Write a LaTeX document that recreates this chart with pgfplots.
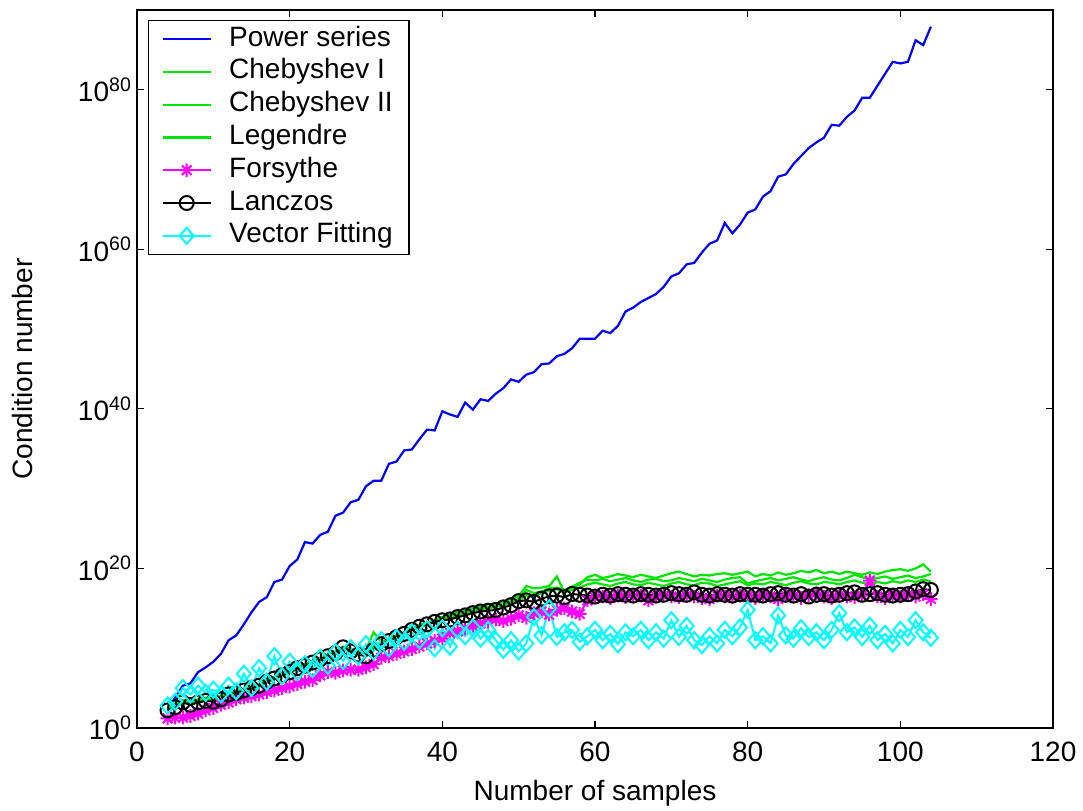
\documentclass[border=0pt]{standalone}
\usepackage{fontspec}
\setmainfont{Liberation Sans}
\usepackage{pgfplots}
\pgfplotsset{compat=1.18}

\definecolor{mblue}{rgb}{0,0,1}
\definecolor{mgreen}{rgb}{0,0.9,0}
\definecolor{mmag}{rgb}{1,0,1}
\definecolor{mcyan}{rgb}{0,1,1}

% MATLAB-like eight-armed asterisk
\pgfdeclareplotmark{mstar}{%
  \pgfpathmoveto{\pgfqpoint{0pt}{\pgfplotmarksize}}\pgfpathlineto{\pgfqpoint{0pt}{-\pgfplotmarksize}}%
  \pgfpathmoveto{\pgfqpoint{\pgfplotmarksize}{0pt}}\pgfpathlineto{\pgfqpoint{-\pgfplotmarksize}{0pt}}%
  \pgfpathmoveto{\pgfqpoint{.707\pgfplotmarksize}{.707\pgfplotmarksize}}\pgfpathlineto{\pgfqpoint{-.707\pgfplotmarksize}{-.707\pgfplotmarksize}}%
  \pgfpathmoveto{\pgfqpoint{.707\pgfplotmarksize}{-.707\pgfplotmarksize}}\pgfpathlineto{\pgfqpoint{-.707\pgfplotmarksize}{.707\pgfplotmarksize}}%
  \pgfusepathqstroke}
% diamond, slightly taller than wide
\pgfdeclareplotmark{mdiam}{%
  \pgfpathmoveto{\pgfqpoint{0pt}{1.15\pgfplotmarksize}}%
  \pgfpathlineto{\pgfqpoint{\pgfplotmarksize}{0pt}}%
  \pgfpathlineto{\pgfqpoint{0pt}{-1.15\pgfplotmarksize}}%
  \pgfpathlineto{\pgfqpoint{-\pgfplotmarksize}{0pt}}%
  \pgfpathclose\pgfusepathqstroke}

\newcommand{\mfont}{\fontsize{14}{16.8}\selectfont}

\begin{document}
\begin{tikzpicture}
\useasboundingbox (-68.5pt,-41pt) rectangle (473pt,364pt);
\begin{axis}[
  at={(0,0)}, anchor=south west,
  scale only axis, width=458pt, height=359pt,
  xmin=0, xmax=120, ymin=1, ymax=1e90,
  ymode=log,
  xtick={0,20,...,120},
  ytick={1,1e20,1e40,1e60,1e80},
  yticklabels={10\textsuperscript{0},10\textsuperscript{20},10\textsuperscript{40},10\textsuperscript{60},10\textsuperscript{80}},
  yminorticks=false,
  tick align=inside, major tick length=3.5pt,
  axis line style={line width=0.6pt}, every tick/.style={black,line width=0.6pt},
  /pgf/number format/assume math mode=true,
  every tick label/.append style={font=\mfont},
  xticklabel style={yshift=-3.5pt},
  yticklabel style={xshift=1pt},
  xlabel={Number of samples},
  ylabel={Condition number},
  label style={font=\mfont},
  xlabel style={at={(axis description cs:0.5,0)}, anchor=base, yshift=-36pt},
  ylabel style={at={(axis description cs:-0.1245,0.5)}, anchor=center},
  legend cell align=left,
  legend style={at={(0,1)}, anchor=north west, xshift=5.5pt, yshift=-5pt,
    font=\mfont, draw=black, line width=0.6pt, inner xsep=6.5pt, inner ysep=1pt,
    nodes={text height=10pt, text depth=3pt, inner sep=1.7pt},
    /tikz/every odd column/.append style={column sep=7pt}},
  legend image code/.code={\draw[mark repeat=2,mark phase=2,#1] plot coordinates {(0pt,0pt) (12pt,0pt) (24pt,0pt)};},
]
% Power series
\addplot[mblue, line width=1.1pt] coordinates {
(4,2e2)(5,6.3e3)(6,2e5)(7,4e5)(8,1e7)(9,4e7)(10,2e8)(11,2e9)(12,1e11)(13,4e11)(14,1e13)(15,3.2e14)(16,6.3e15)(17,2.5e16)(18,2e18)(19,4e18)(20,2e20)(21,1.3e21)(22,2e23)(23,1.3e23)(24,1.6e24)(25,4e24)(26,4e26)(27,1e27)(28,2e28)(29,4e28)(30,2e30)(31,1e31)(32,1e31)(33,1.3e33)(34,2.5e33)(35,6.3e34)(36,8e34)(37,1.6e36)(38,2.5e37)(39,2e37)(40,5e39)(41,2e39)(42,1e39)(43,6.3e40)(44,8e39)(45,1.6e41)(46,1e41)(47,8e41)(48,4e42)(49,5e43)(50,2.5e43)(51,2e44)(52,4e44)(53,4e45)(54,5e45)(55,4e46)(56,8e46)(57,4e47)(58,6.3e48)(59,6.3e48)(60,6.3e48)(61,6.3e49)(62,3.2e49)(63,2.5e50)(64,1.6e52)(65,5e52)(66,2.5e53)(67,8e53)(68,2.5e54)(69,2e55)(70,4e56)(71,1e57)(72,1.3e58)(73,2e58)(74,4e59)(75,5e60)(76,1.3e61)(77,2e63)(78,1e62)(79,1.3e63)(80,4e64)(81,1e65)(82,4e66)(83,2e67)(84,1.3e69)(85,2.5e69)(86,5e70)(87,5e71)(88,5e72)(89,2.5e73)(90,1e74)(91,4e75)(92,3.2e75)(93,4e76)(94,2.5e77)(95,1e79)(96,1e79)(97,3.2e80)(98,1e82)(99,3.2e83)(100,2e83)(101,3.2e83)(102,1.6e86)(103,4e85)(104,8e87)};
\addlegendentry{Power series}
% Chebyshev I
\addplot[mgreen, line width=1.1pt] coordinates {
(4,3.2e2)(5,1e3)(6,3.2e3)(7,1.6e3)(8,4e3)(9,6.3e3)(10,5e3)(11,1e4)(12,2.5e4)(13,4e4)(14,8e4)(15,1.6e5)(16,3.2e5)(17,1e6)(18,2.5e6)(19,6.3e6)(20,1.6e7)(21,5e7)(22,1e8)(23,2.5e8)(24,6.3e8)(25,1.6e9)(26,4e9)(27,1.6e10)(28,8e9)(29,4e9)(30,6.3e9)(31,1e12)(32,6.3e10)(33,1.3e11)(34,4e11)(35,1e12)(36,3.2e12)(37,8e12)(38,1.6e13)(39,3.2e13)(40,8e13)(41,1.6e14)(42,3.2e14)(43,5e14)(44,1e15)(45,1.6e15)(46,3.2e15)(47,4e15)(48,6.3e15)(49,1.6e16)(50,3.2e16)(51,6.3e17)(52,3.2e17)(53,4e17)(54,6.3e17)(55,1e19)(56,1e17)(57,4e17)(58,1e18)(59,8e18)(60,1.6e19)(61,6.3e18)(62,1e19)(63,2e19)(64,1.3e19)(65,8e18)(66,1.6e19)(67,1e19)(68,6.3e18)(69,1.3e19)(70,2.5e19)(71,4e19)(72,2e19)(73,1e19)(74,1.6e19)(75,1.3e19)(76,2e19)(77,2.5e19)(78,1.6e19)(79,2.5e19)(80,4e19)(81,1e19)(82,2e19)(83,1.3e19)(84,3.2e19)(85,1.6e19)(86,2.5e19)(87,5e19)(88,3.2e19)(89,6.3e19)(90,2.5e19)(91,4e19)(92,2e19)(93,4e19)(94,2.5e19)(95,1.6e19)(96,3.2e19)(97,2e19)(98,4e19)(99,6.3e19)(100,8e19)(101,5e19)(102,1e20)(103,3.2e20)(104,4e19)};
\addlegendentry{Chebyshev I}
% Chebyshev II
\addplot[mgreen, line width=1.1pt] coordinates {
(4,2e2)(5,8e2)(6,2e3)(7,1e3)(8,2.5e3)(9,3.2e3)(10,4e3)(11,8e3)(12,1.3e4)(13,2e4)(14,4e4)(15,8e4)(16,1.6e5)(17,5e5)(18,1.3e6)(19,3.2e6)(20,8e6)(21,2.5e7)(22,5e7)(23,1.3e8)(24,3.2e8)(25,8e8)(26,2e9)(27,8e9)(28,3.2e9)(29,1.6e9)(30,2e9)(31,1e10)(32,4e10)(33,1e11)(34,2.5e11)(35,6.3e11)(36,2e12)(37,5e12)(38,1e13)(39,2e13)(40,4e13)(41,1e14)(42,1.6e14)(43,2.5e14)(44,5e14)(45,8e14)(46,1.3e15)(47,2e15)(48,3.2e15)(49,6.3e15)(50,1.6e16)(51,2e17)(52,8e16)(53,1.3e17)(54,3.2e17)(55,4e17)(56,2e17)(57,5e17)(58,1.6e18)(59,4e18)(60,3.2e18)(61,5e18)(62,2.5e18)(63,4e18)(64,6.3e18)(65,3.2e18)(66,2e18)(67,4e18)(68,5e18)(69,2.5e18)(70,3.2e18)(71,6.3e18)(72,4e18)(73,2.5e18)(74,5e18)(75,3.2e18)(76,2e18)(77,4e18)(78,6.3e18)(79,8e18)(80,1.3e18)(81,2.5e18)(82,4e18)(83,6.3e18)(84,3.2e18)(85,5e18)(86,8e18)(87,4e18)(88,2.5e18)(89,5e18)(90,8e18)(91,4e18)(92,3.2e18)(93,6.3e18)(94,1.6e19)(95,8e18)(96,4e18)(97,6.3e18)(98,1e19)(99,5e18)(100,8e18)(101,1.3e19)(102,6.3e18)(103,1e19)(104,2e19)};
\addlegendentry{Chebyshev II}
% Legendre
\addplot[mgreen, line width=1.1pt] coordinates {
(4,2.5e2)(5,6.3e2)(6,2.5e3)(7,1.3e3)(8,2e3)(9,4e3)(10,3.2e3)(11,6.3e3)(12,2e4)(13,2.5e4)(14,6.3e4)(15,1.3e5)(16,2e5)(17,8e5)(18,1.6e6)(19,5e6)(20,1e7)(21,3.2e7)(22,8e7)(23,2e8)(24,5e8)(25,1.3e9)(26,3.2e9)(27,1e10)(28,5e9)(29,2e9)(30,4e9)(31,2e10)(32,5e10)(33,1e11)(34,3.2e11)(35,8e11)(36,2e12)(37,4e12)(38,8e12)(39,2e13)(40,3.2e13)(41,6.3e13)(42,1.3e14)(43,2e14)(44,4e14)(45,6.3e14)(46,1e15)(47,1.6e15)(48,2.5e15)(49,5e15)(50,1e16)(51,4e16)(52,3.2e16)(53,8e16)(54,1.6e17)(55,2.5e17)(56,1e17)(57,2e17)(58,4e17)(59,1e18)(60,1.6e18)(61,1e18)(62,6.3e17)(63,1.3e18)(64,2e18)(65,1e18)(66,8e17)(67,1.6e18)(68,1e18)(69,6.3e17)(70,1.3e18)(71,2e18)(72,1e18)(73,8e17)(74,1.6e18)(75,1.3e18)(76,6.3e17)(77,1e18)(78,1.6e18)(79,2.5e18)(80,8e17)(81,1.3e18)(82,1e18)(83,2e18)(84,1.3e18)(85,8e17)(86,1.6e18)(87,2.5e18)(88,1.3e18)(89,1e18)(90,2e18)(91,1.6e18)(92,1e18)(93,2e18)(94,3.2e18)(95,1.6e18)(96,1e18)(97,2e18)(98,1.3e18)(99,2.5e18)(100,1.6e18)(101,3.2e18)(102,2e18)(103,4e18)(104,2.5e18)};
\addlegendentry{Legendre}
% Forsythe
\addplot[mmag, line width=1pt, mark=mstar, mark size=3.4pt] coordinates {
(4,1.6e1)(5,2e1)(6,2e1)(7,3.2e1)(8,6.3e1)(9,1.6e2)(10,3.2e2)(11,8e2)(12,1.6e3)(13,4e3)(14,6.3e3)(15,1e4)(16,1.6e4)(17,3.2e4)(18,5e4)(19,1e5)(20,1.6e5)(21,3.2e5)(22,6.3e5)(23,1e6)(24,4e6)(25,1e7)(26,8e6)(27,1.6e7)(28,2e7)(29,2e7)(30,4e7)(31,1e8)(32,6.3e8)(33,1e9)(34,2e9)(35,4e9)(36,8e9)(37,1.6e10)(38,4e10)(39,8e10)(40,1.6e11)(41,8e11)(42,1.3e12)(43,3.2e12)(44,6.3e12)(45,1.3e13)(46,2e13)(47,4e13)(48,2.5e13)(49,5e13)(50,1.3e14)(51,6.3e13)(52,2.5e14)(53,4e14)(54,1.6e14)(55,6.3e14)(56,1e15)(57,4e14)(58,2e14)(59,1e16)(60,2.5e16)(61,3e16)(62,2e16)(63,4e16)(64,2.5e16)(65,3e16)(66,4e16)(67,1e16)(68,3e16)(69,4e16)(70,3e16)(71,2.5e16)(72,4e16)(73,3e16)(74,2e16)(75,1.5e16)(76,4e16)(77,3e16)(78,2.5e16)(79,4e16)(80,3e16)(81,2e16)(82,4e16)(83,3e16)(84,1.5e16)(85,4e16)(86,3e16)(87,2e16)(88,4e16)(89,8e16)(90,3e16)(91,2e16)(92,4e16)(93,3e16)(94,2.5e16)(95,4e16)(96,3e18)(97,3e16)(98,2e16)(99,4e16)(100,3e16)(101,5e16)(102,3e16)(103,6e16)(104,1.5e16)};
\addlegendentry{Forsythe}
% Lanczos
\addplot[black, line width=1pt, mark=o, mark size=3.5pt] coordinates {
(4,1.6e2)(5,4e2)(6,1.6e3)(7,8e2)(8,1.6e3)(9,2.5e3)(10,2e3)(11,4e3)(12,1.6e4)(13,2.5e4)(14,5e4)(15,1e5)(16,2e5)(17,6.3e5)(18,1.6e6)(19,4e6)(20,1e7)(21,3.2e7)(22,6.3e7)(23,1.6e8)(24,4e8)(25,1e9)(26,2.5e9)(27,1.3e10)(28,4e9)(29,1.6e9)(30,1e9)(31,6.3e9)(32,3.2e10)(33,8e10)(34,2.5e11)(35,6.3e11)(36,2e12)(37,5e12)(38,1e13)(39,2e13)(40,3.2e13)(41,4e13)(42,8e13)(43,1.3e14)(44,2.5e14)(45,4e14)(46,5e14)(47,6.3e14)(48,1.3e15)(49,2.5e15)(50,8e15)(51,1e16)(52,6.3e15)(53,1.6e16)(54,3.2e16)(55,4e16)(56,2.5e16)(57,6.3e16)(58,5e16)(59,4e16)(60,3e16)(61,5e16)(62,4e16)(63,6e16)(64,5e16)(65,4e16)(66,6e16)(67,5e16)(68,4e16)(69,5e16)(70,8e16)(71,6e16)(72,5e16)(73,1e17)(74,5e16)(75,4e16)(76,6e16)(77,5e16)(78,4e16)(79,6e16)(80,5e16)(81,5e16)(82,4e16)(83,6e16)(84,8e16)(85,5e16)(86,4e16)(87,6e16)(88,3e16)(89,5e16)(90,6e16)(91,4e16)(92,5e16)(93,8e16)(94,1e17)(95,5e16)(96,6e16)(97,8e16)(98,5e16)(99,4e16)(100,5e16)(101,6e16)(102,1.3e17)(103,2.5e17)(104,2e17)};
\addlegendentry{Lanczos}
% Vector Fitting
\addplot[mcyan, line width=1pt, mark=mdiam, mark size=3.5pt] coordinates {
(4,6.3e2)(5,2e3)(6,1e5)(7,1.6e4)(8,2e5)(9,2.5e4)(10,6.3e4)(11,1.6e4)(12,2e5)(13,4e4)(14,6.3e6)(15,1e5)(16,3.2e7)(17,6.3e5)(18,1e9)(19,3.2e6)(20,2e8)(21,1e7)(22,1e8)(23,2.5e7)(24,6.3e8)(25,6.3e7)(26,3.2e9)(27,2.5e8)(28,1e10)(29,1e9)(30,3.2e10)(31,4e9)(32,1e11)(33,1e10)(34,2e11)(35,6.3e10)(36,1e12)(37,1e11)(38,2.5e12)(39,1e10)(40,3.2e12)(41,1.6e10)(42,2e12)(43,3.2e11)(44,4e12)(45,1.6e11)(46,2e12)(47,1e11)(48,6.3e9)(49,1e11)(50,4e9)(51,4e10)(52,8e13)(53,4e11)(54,1e15)(55,2.5e11)(56,1e12)(57,2e12)(58,6.3e10)(59,3.2e11)(60,2e12)(61,1e11)(62,6.3e11)(63,3.2e10)(64,1e12)(65,3.2e11)(66,2e12)(67,1e11)(68,1e12)(69,1.6e11)(70,3.2e13)(71,2.5e11)(72,6.3e12)(73,1e11)(74,2.5e10)(75,3.2e11)(76,4e10)(77,2e12)(78,3.2e11)(79,4e12)(80,6.3e14)(81,1e11)(82,3.2e11)(83,4e10)(84,1.3e14)(85,4e11)(86,1.6e11)(87,3.2e12)(88,2.5e11)(89,1e12)(90,1e11)(91,2e12)(92,2.5e14)(93,1e12)(94,4e12)(95,2.5e11)(96,6.3e12)(97,1e11)(98,6.3e11)(99,4e10)(100,2e12)(101,2.5e11)(102,3.2e13)(103,1e12)(104,2e11)};
\addlegendentry{Vector Fitting}
\end{axis}
\end{tikzpicture}
\end{document}
